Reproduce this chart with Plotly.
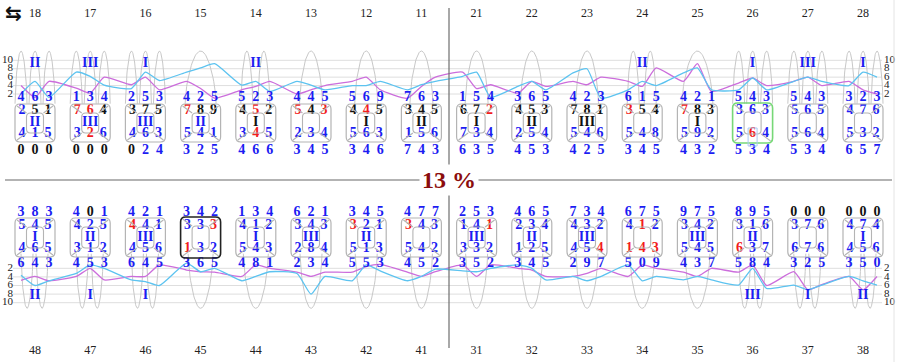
import numpy as np
import plotly.graph_objects as go

# ---------------- data ----------------
UPPER_TEETH = [18, 17, 16, 15, 14, 13, 12, 11, 21, 22, 23, 24, 25, 26, 27, 28]
LOWER_TEETH = [48, 47, 46, 45, 44, 43, 42, 41, 31, 32, 33, 34, 35, 36, 37, 38]

# upper jaw: row above box, box top, box centre, box bottom, row below box
UP_ROW_A = ["463", "134", "253", "425", "523", "445", "569", "763", "154", "365", "423", "615", "421", "543", "543", "323"]
UP_ROW_A_CLR = ["bbb"] * 16
UP_BOX_TOP = ["251", "764", "375", "789", "452", "543", "445", "345", "672", "453", "781", "354", "783", "363", "565", "476"]
UP_BOX_TOP_CLR = ["bkk", "rrk", "kkk", "rkk", "krk", "rkr", "krk", "kkk", "kkr", "kkk", "kkk", "rkk", "rkk", "bbb", "bbb", "bbb"]
UP_MID = ["II", "III", "III", "II", "I", "", "I", "II", "I", "II", "III", "", "I", "", "", ""]
UP_MID_CLR = ["b", "b", "b", "b", "k", "k", "k", "k", "k", "k", "k", "k", "k", "b", "b", "b"]
UP_BOX_BOT = ["415", "326", "463", "541", "345", "234", "563", "156", "734", "254", "546", "548", "592", "564", "564", "532"]
UP_BOX_BOT_CLR = ["bbb", "brb", "bbb", "bbb", "brb", "bbb", "bbb", "bbb", "bbb", "bbb", "bbb", "bbb", "bbb", "brb", "bbb", "bbb"]
UP_ROW_B = ["000", "000", "024", "325", "466", "345", "346", "743", "635", "453", "425", "345", "432", "534", "534", "657"]
UP_ROW_B_CLR = ["kkk", "kkk", "kbb"] + ["bbb"] * 13
UP_FURC = ["II", "III", "I", "", "II", "", "", "", "", "", "", "II", "", "I", "III", "I"]
UP_ROOTS = ["3", "3", "3", "W", "2", "M", "M", "M", "M", "M", "M", "2", "W", "3", "3", "3"]

# upper lines (3 sites per tooth)
UP_PURPLE = [4.0, 1.2, 5.0, 3.4, 2.2, 6.0, 4.2, 6.0, 3.0, 5.0, 3.3, 1.0, 3.0, 3.8, 5.0, 2.0,
             3.0, 4.0, 5.0, 6.0, 3.0, 1.0, 3.8, 6.0, 7.2, 3.3, 4.2, 2.2, 5.0, 3.8, 5.0, 4.2,
             6.0, 5.0, 3.8, 8.2, 5.0, 9.2, 2.6, 4.6, 5.8, 4.0, 5.0, 6.0, 4.0, 5.0, 3.0, 2.0]
UP_CYAN = [2.0, 5.0, 1.2, 7.2, 6.2, 4.1, 3.3, 7.2, 5.2, 7.2, 8.2, 9.2, 4.1, 5.0, 2.6, 5.0,
           4.1, 3.0, 4.0, 4.0, 5.0, 3.0, 4.2, 5.0, 6.2, 7.2, 1.2, 3.8, 5.0, 3.0, 7.0, 8.0,
           1.0, 3.0, 5.0, 4.0, 7.0, 8.2, 3.0, 3.0, 5.8, 3.0, 5.0, 6.0, 5.0, 4.0, 7.2, 6.0]

# lower jaw: row above box, box top, box centre, box bottom, row below box
LO_ROW_C = ["383", "401", "421", "342", "134", "621", "345", "477", "253", "465", "734", "675", "975", "895", "000", "000"]
LO_ROW_C_CLR = ["bbb", "bkb"] + ["bbb"] * 12 + ["kkk", "kkk"]
LO_BOX_TOP = ["545", "425", "441", "333", "412", "343", "321", "343", "141", "234", "432", "412", "342", "316", "376", "474"]
LO_BOX_TOP_CLR = ["bbb", "bbb", "rbb", "bbr", "bbb", "bbb", "rbb", "rbb", "bbr", "bbb", "bbb", "brb", "bbb", "bbb", "bbb", "bbb"]
LO_MID = ["I", "II", "III", "", "I", "III", "II", "", "III", "II", "III", "", "III", "II", "", "I"]
LO_BOX_BOT = ["465", "312", "456", "132", "543", "284", "513", "542", "332", "125", "454", "143", "545", "637", "676", "456"]
LO_BOX_BOT_CLR = ["bbb", "bbb", "bbb", "rbb", "bbb", "bbb", "bbb", "bbb", "bbb", "bbb", "bbr", "rrr", "bbb", "rbb", "bbb", "bbb"]
LO_ROW_D = ["643", "453", "645", "365", "481", "234", "553", "452", "352", "345", "297", "509", "437", "584", "325", "350"]
LO_ROW_D_CLR = ["bbb"] * 16
LO_FURC = ["II", "I", "I", "", "", "", "", "", "", "", "", "", "", "III", "I", "II"]
LO_ROOTS = ["2", "2", "2", "W", "W", "M", "M", "M", "M", "M", "M", "W", "W", "2", "2", "2"]

LO_PURPLE = [4.8, 3.9, 4.9, 3.9, 2.0, 4.7, 3.9, 3.9, 1.2, 2.4, 2.8, 2.9, 3.9, 1.2, 2.0, 2.9,
             3.9, 2.9, 2.9, 1.6, 1.1, 2.9, 3.9, 2.8, 1.2, 3.9, 1.2, 2.0, 2.4, 3.9, 3.9, 3.2,
             2.0, 3.9, 1.2, 2.0, 2.9, 3.9, 2.0, 2.9, 1.2, 6.0, 2.8, 7.0, 5.8, 3.9, 7.0, 3.9]
LO_CYAN = [3.6, 6.0, 4.9, 3.2, 1.2, 2.0, 4.7, 5.1, 6.0, 0.8, 2.8, 2.0, 4.9, 3.9, 2.8, 3.2,
           8.0, 3.9, 4.9, 1.2, 2.6, 4.9, 3.9, 2.2, 2.6, 2.8, 2.0, 1.2, 2.0, 4.7, 3.9, 4.9,
           3.9, 1.2, 4.9, 3.9, 4.7, 3.9, 4.7, 5.9, 2.0, 6.7, 5.9, 7.0, 5.9, 3.9, 4.9, 5.9]

GRID_VALUES = [2, 4, 6, 8, 10]
SCORE_TEXT = "13 %"

# ---------------- layout constants ----------------
W, H = 900, 362
X0, DX = 35.0, 55.2
SERIF = "Liberation Serif, Times New Roman, serif"
CLR = {"b": "#1c1cf2", "r": "#f21c1c", "k": "#111111"}
PURPLE = "#cc6ddc"
CYAN = "#5cc3f0"
ROOT_CLR = "#c8c8c8"
GRID_CLR = "#dedede"
NUM_SIZE = 14


def px2x(px):
    return (px - X0) / DX


def dx(px):
    return px / DX


# upper value axis: v=10 at y=60.3, v=2 at y=94
KU = (94.0 - 60.3) / 8.0
UP_RANGE = [10 - (H - 60.3) / KU, 10 + 60.3 / KU]
# lower value axis (down): v=2 at y=268.3, v=10 at y=302.7
KL = (302.7 - 268.3) / 8.0
LO_RANGE = [2 + (H - 268.3) / KL, 2 - 268.3 / KL]

fig = go.Figure()

idx = np.arange(16)
site_off = dx(14)
site_x = [i + o for i in idx for o in (-site_off, 0, site_off)]

# ---------- gridlines ----------
shapes = []
for v in GRID_VALUES:
    shapes.append(dict(type="line", xref="x", yref="y", x0=px2x(13), x1=px2x(882), y0=v, y1=v,
                       line=dict(color=GRID_CLR, width=1), layer="below"))
    shapes.append(dict(type="line", xref="x", yref="y2", x0=px2x(13), x1=px2x(882), y0=v, y1=v,
                       line=dict(color=GRID_CLR, width=1), layer="below"))

# ---------- roots ----------
ROOT_GEOM_UP = {"3": [(-14, 12), (0, 12), (14, 12)], "2": [(-9, 12), (8, 12)], "M": [(0, 23)], "W": [(0, 31)]}
ROOT_GEOM_LO = {"3": [(-14, 12), (0, 12), (14, 12)], "2": [(-8, 12), (7, 12)], "M": [(0, 22)], "W": [(0, 25)]}


def root_trace(roots, geom, base, tip, yaxis):
    xs, ys = [], []
    s = np.linspace(-1, 1, 41)
    prof = np.cos(np.pi / 2 * s).clip(0) ** 0.6
    for i, r in enumerate(roots):
        for off, wid in geom[r]:
            xs += list(i + dx(off) + s * dx(wid) / 2) + [None]
            ys += list(base + (tip - base) * prof) + [None]
    return go.Scatter(x=xs, y=ys, mode="lines", line=dict(color=ROOT_CLR, width=1),
                      yaxis=yaxis, hoverinfo="skip")


fig.add_trace(root_trace(UP_ROOTS, ROOT_GEOM_UP, -0.3, 12.2, "y"))
fig.add_trace(root_trace(LO_ROOTS, ROOT_GEOM_LO, -1.4, 11.3, "y2"))

# ---------- measurement lines ----------
for vals, col, ax in [(UP_PURPLE, PURPLE, "y"), (UP_CYAN, CYAN, "y"),
                      (LO_PURPLE, PURPLE, "y2"), (LO_CYAN, CYAN, "y2")]:
    fig.add_trace(go.Scatter(x=site_x, y=vals, mode="lines", yaxis=ax,
                             line=dict(color=col, width=1.3, shape="spline", smoothing=0.5),
                             hoverinfo="skip"))

# ---------- grid labels ----------
for ax in ("y", "y2"):
    fig.add_trace(go.Scatter(x=[px2x(13)] * 5, y=GRID_VALUES, mode="text", yaxis=ax,
                             text=[str(v) for v in GRID_VALUES], textposition="middle left",
                             textfont=dict(family=SERIF, size=11, color="#222"), hoverinfo="skip"))
    fig.add_trace(go.Scatter(x=[px2x(884)] * 5, y=GRID_VALUES, mode="text", yaxis=ax,
                             text=[str(v) for v in GRID_VALUES], textposition="middle right",
                             textfont=dict(family=SERIF, size=11, color="#222"), hoverinfo="skip"))


# ---------- text rows ----------
def digit_row(vals, clrs, ypx, off_px, size=NUM_SIZE):
    xs, ys, ts, cs = [], [], [], []
    for i, (v, c) in enumerate(zip(vals, clrs)):
        for k, o in enumerate((-off_px, 0, off_px)):
            xs.append(i + dx(o))
            ys.append(ypx)
            ts.append("<b>%s</b>" % v[k])
            cs.append(CLR[c[k]])
    fig.add_trace(go.Scatter(x=xs, y=ys, text=ts, mode="text", yaxis="y3",
                             textfont=dict(family=SERIF, size=size, color=cs), hoverinfo="skip"))


def label_row(vals, clrs, ypx, size=NUM_SIZE, bold=True):
    ts = [("<b>%s</b>" % v if bold else v) if v else "" for v in vals]
    fig.add_trace(go.Scatter(x=list(idx), y=[ypx] * 16, text=ts, mode="text", yaxis="y3",
                             textfont=dict(family=SERIF, size=size, color=clrs), hoverinfo="skip"))


# upper
label_row([str(t) for t in UPPER_TEETH], ["#222"] * 16, 14, size=12, bold=False)
label_row(UP_FURC, [CLR["b"]] * 16, 63)
digit_row(UP_ROW_A, UP_ROW_A_CLR, 97, 14)
digit_row(UP_BOX_TOP, UP_BOX_TOP_CLR, 110.5, 13)
label_row(UP_MID, [CLR[c] for c in UP_MID_CLR], 122)
digit_row(UP_BOX_BOT, UP_BOX_BOT_CLR, 133.5, 13)
digit_row(UP_ROW_B, UP_ROW_B_CLR, 150, 14)
# lower
digit_row(LO_ROW_C, LO_ROW_C_CLR, 212, 14)
digit_row(LO_BOX_TOP, LO_BOX_TOP_CLR, 225, 13)
label_row(LO_MID, [CLR["b"]] * 16, 237)
digit_row(LO_BOX_BOT, LO_BOX_BOT_CLR, 248.5, 13)
digit_row(LO_ROW_D, LO_ROW_D_CLR, 263, 14)
label_row(LO_FURC, [CLR["b"]] * 16, 295)
label_row([str(t) for t in LOWER_TEETH], ["#222"] * 16, 351, size=12, bold=False)


# ---------- crown boxes ----------
def rrect_path(cx, y0, y1, hw, r):
    xl, xr, rx = cx - dx(hw), cx + dx(hw), dx(r)
    return (f"M {xl+rx},{y0} L {xr-rx},{y0} Q {xr},{y0} {xr},{y0+r} L {xr},{y1-r} "
            f"Q {xr},{y1} {xr-rx},{y1} L {xl+rx},{y1} Q {xl},{y1} {xl},{y1-r} "
            f"L {xl},{y0+r} Q {xl},{y0} {xl+rx},{y0} Z")


def add_box(i, y0, y1, outer_clr="#b4b4b4", outer_w=1.2):
    iy0, iy1 = y0 + 9, y1 - 9
    shapes.append(dict(type="path", xref="x", yref="y3", path=rrect_path(i, iy0, iy1, 8.5, 4),
                       line=dict(color="#b4b4b4", width=1.1)))
    d = (f"M {i-dx(8.5)},{iy0} L {i-dx(18)},{y0+2} M {i+dx(8.5)},{iy0} L {i+dx(18)},{y0+2} "
         f"M {i-dx(8.5)},{iy1} L {i-dx(18)},{y1-2} M {i+dx(8.5)},{iy1} L {i+dx(18)},{y1-2}")
    shapes.append(dict(type="path", xref="x", yref="y3", path=d, line=dict(color="#b4b4b4", width=1.1)))
    shapes.append(dict(type="path", xref="x", yref="y3", path=rrect_path(i, y0, y1, 20, 5),
                       line=dict(color=outer_clr, width=outer_w)))


for i in idx:
    t = UPPER_TEETH[i]
    if t == 26:
        add_box(i, 103, 143, "#77d877", 1.6)
    else:
        add_box(i, 104, 142)
    t = LOWER_TEETH[i]
    if t == 45:
        add_box(i, 217, 258, "#222222", 1.6)
    else:
        add_box(i, 218, 257)

# highlighted cell on tooth 26
i26 = UPPER_TEETH.index(26)
shapes.append(dict(type="rect", xref="x", yref="y3", x0=i26 - dx(4.5), x1=i26 + dx(4.5), y0=128, y1=146,
                   line=dict(color="#a9c9f2", width=1)))

# ---------- dividers ----------
shapes.append(dict(type="line", xref="x", yref="y3", x0=7.5, x1=7.5, y0=8, y1=168,
                   line=dict(color="#6e6e6e", width=1.2)))
shapes.append(dict(type="line", xref="x", yref="y3", x0=7.5, x1=7.5, y0=195, y1=348,
                   line=dict(color="#6e6e6e", width=1.2)))
shapes.append(dict(type="line", xref="paper", yref="y3", x0=5 / W, x1=892 / W, y0=180, y1=180,
                   line=dict(color="#9a9a9a", width=1.5)))
shapes.append(dict(type="line", xref="paper", yref="y3", x0=894 / W, x1=894 / W, y0=0, y1=H,
                   line=dict(color="#e4e4e4", width=1)))

annotations = [
    dict(x=7.5, y=180, xref="x", yref="y3", text="<b>%s</b>" % SCORE_TEXT, showarrow=False,
         font=dict(family=SERIF, size=24, color="#8b0d0d"), bgcolor="white", borderpad=2),
    dict(x=px2x(13), y=13, xref="x", yref="y3", text="<b>⇆</b>", showarrow=False,
         font=dict(family="DejaVu Sans", size=20, color="#111")),
]

fig.update_layout(
    width=W, height=H, margin=dict(l=0, r=0, t=0, b=0),
    paper_bgcolor="white", plot_bgcolor="white", showlegend=False,
    xaxis=dict(range=[px2x(0), px2x(W)], visible=False, fixedrange=True),
    yaxis=dict(range=UP_RANGE, visible=False, fixedrange=True),
    yaxis2=dict(range=LO_RANGE, visible=False, overlaying="y", fixedrange=True),
    yaxis3=dict(range=[H, 0], visible=False, overlaying="y", fixedrange=True),
    shapes=shapes, annotations=annotations,
)

fig.write_html("out.html", config={"displayModeBar": False},
               post_script="document.body.style.margin='0px';document.body.style.overflow='hidden';")
